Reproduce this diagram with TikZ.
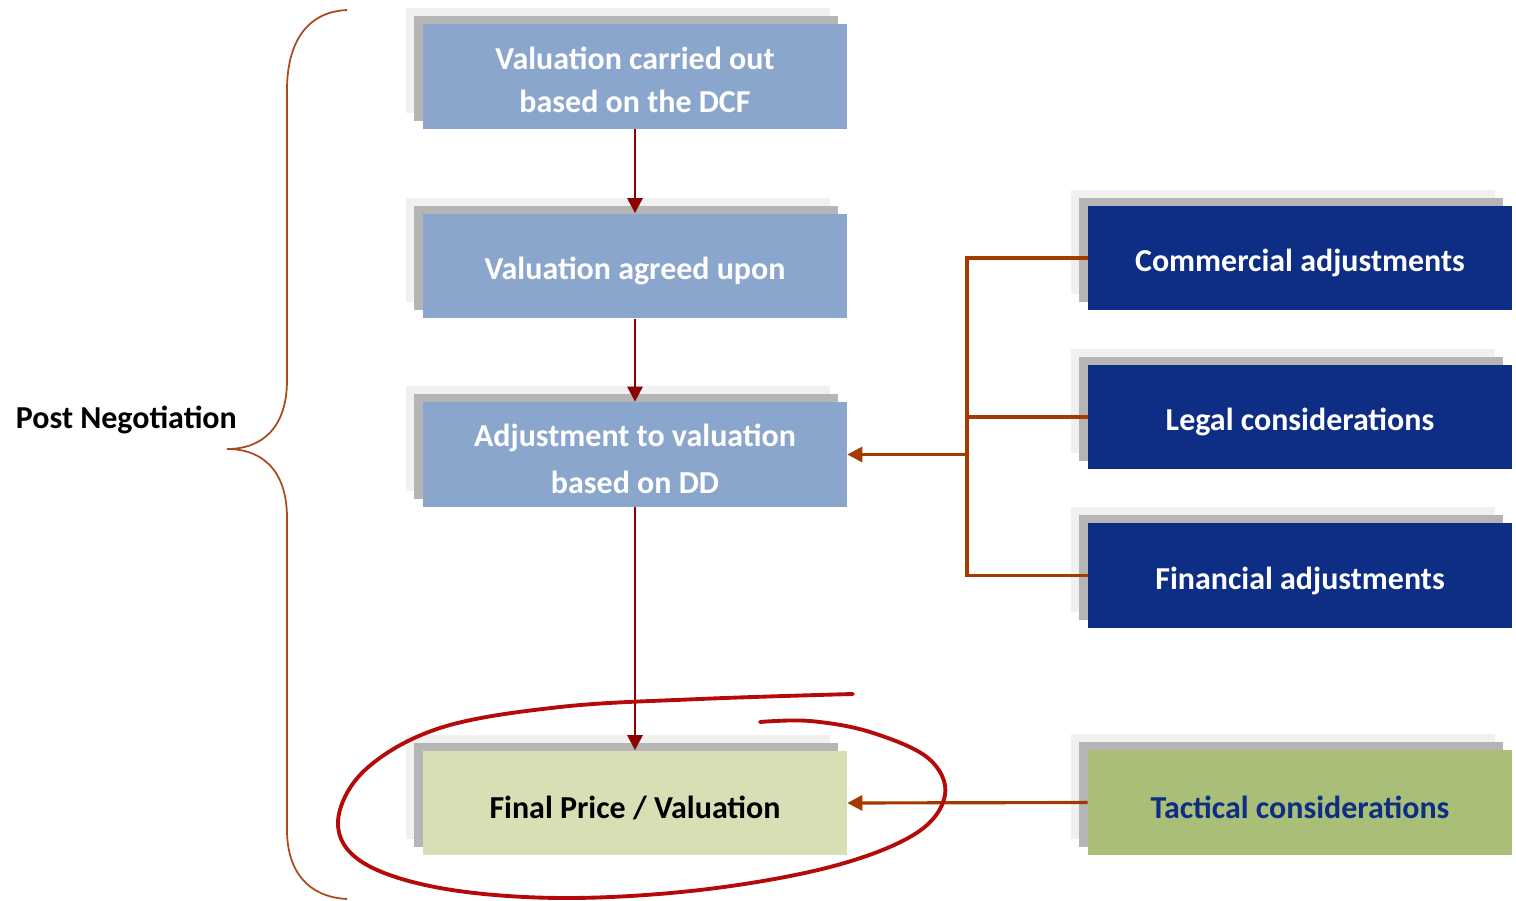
\documentclass[tikz,border=0pt]{standalone}
\usepackage{fontspec}
\setmainfont{Carlito}
\usepackage{xcolor}
\usepackage{tikz}
\usetikzlibrary{shadows, arrows.meta}

\definecolor{stepblue}{RGB}{138,166,204}
\definecolor{navy}{RGB}{14,45,132}
\definecolor{palegreen}{RGB}{215,224,181}
\definecolor{olive}{RGB}{169,190,119}
\definecolor{darkred}{RGB}{139,0,0}
\definecolor{rust}{RGB}{163,58,0}
\definecolor{bracebrown}{RGB}{170,75,30}
\definecolor{ringred}{RGB}{180,10,10}

\begin{document}
\begin{tikzpicture}[x=0.02cm, y=-0.02cm,
        lift/.style={execute at begin node={\rule{0pt}{#1}}},
        card/.style={
                rectangle,
                draw=none,
                minimum width=8.48cm,
                minimum height=2.1cm,
                align=center,
                font=\fontsize{18.2}{24.5}\selectfont\bfseries,
                lift=0.66cm,
                general shadow={fill=black!6, shadow xshift=-0.34cm, shadow yshift=0.32cm},
                general shadow={fill=black!29, shadow xshift=-0.18cm, shadow yshift=0.16cm},
        },
        flow/.style={draw=darkred, line width=1.7pt, -{Triangle[length=0.3cm,width=0.3cm]}},
        feed/.style={draw=rust, line width=1.8pt},
        ring/.style={draw=ringred, line width=2.2pt, line cap=round},
    ]
    \useasboundingbox (0,0) rectangle (1516,901);

    % main chain
    \node[card, text height=1.43cm, fill=stepblue, text=white] (dcf) at (635,76.5) {Valuation carried out\\based on the DCF};
    \node[card, fill=stepblue, text=white] (agreed) at (635,266) {Valuation agreed upon};
    \node[card, text height=1.56cm, fill=stepblue, text=white, font=\fontsize{18.2}{26.5}\selectfont\bfseries] (adj) at (635,454.5) {Adjustment to valuation\\based on DD};
    \node[card, lift=0.57cm, fill=palegreen, text=black] (final) at (635,803) {Final Price / Valuation};

    % inputs on the right
    \node[card, fill=navy, text=white] (comm) at (1300,258) {Commercial adjustments};
    \node[card, fill=navy, text=white] (legal) at (1300,417) {Legal considerations};
    \node[card, fill=navy, text=white] (fin) at (1300,575.5) {Financial adjustments};
    \node[card, lift=0.57cm, fill=olive, text=navy] (tact) at (1300,802.5) {Tactical considerations};

    \draw[flow] (dcf) -- (agreed);
    \draw[flow] (agreed) -- (adj);
    \draw[flow] (adj) -- (final);

    \coordinate (hub) at (967,454.5);
    \draw[feed] (comm.west) -| (hub);
    \draw[feed] (fin.west) -| (hub);
    \draw[feed] (legal.west) -- (legal.west -| hub);
    \draw[feed, -{Triangle[length=0.3cm,width=0.3cm]}] (hub) -- (adj.east);
    \draw[feed, -{Triangle[length=0.3cm,width=0.3cm]}] (tact.west) -- (final.east);

    % brace and label
    \draw[bracebrown, line width=1pt] (347,10) .. controls (305,12) and (287,45) .. (287,90)
        -- (287,380) .. controls (287,428) and (262,449) .. (227,449)
        .. controls (262,449) and (287,470) .. (287,518)
        -- (287,830) .. controls (287,870) and (307,897) .. (347,899);
    \node[anchor=east, font=\fontsize{18.2}{24}\selectfont\bfseries] (post) at (243,420) {Post Negotiation};

    % hand drawn ring
    \draw[ring] plot[smooth, tension=0.6] coordinates {(853,694) (700,699) (560,707) (440,728)
        (365,770) (338,822) (362,862) (440,888) (560,898) (700,890) (830,867) (915,834)
        (945,795) (928,758) (870,732) (810,721) (760,722)};
\end{tikzpicture}
\end{document}
